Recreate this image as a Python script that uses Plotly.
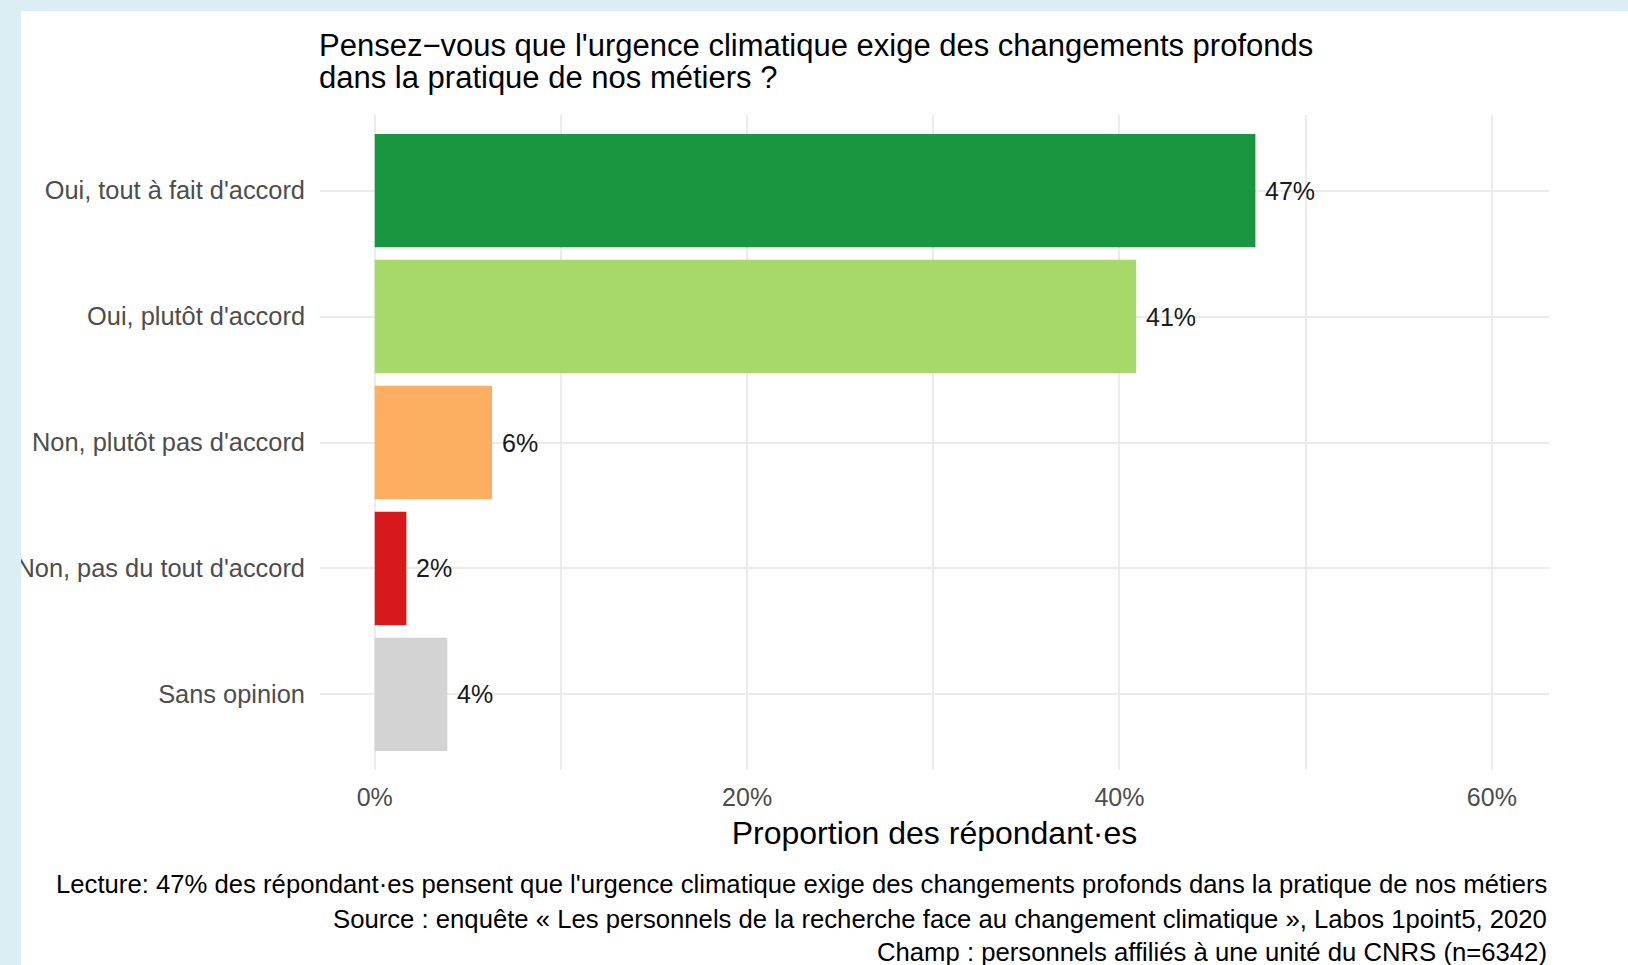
import plotly.graph_objects as go

# ---- data ----
categories = [
    "Oui, tout à fait d'accord",
    "Oui, plutôt d'accord",
    "Non, plutôt pas d'accord",
    "Non, pas du tout d'accord",
    "Sans opinion",
]
values = [47.3, 40.9, 6.3, 1.7, 3.9]
bar_labels = ["47%", "41%", "6%", "2%", "4%"]
bar_colors = ["#1a9641", "#a6d96a", "#fdae61", "#d7191c", "#d3d3d3"]
x_tickvals = [0, 20, 40, 60]
x_ticktext = ["0%", "20%", "40%", "60%"]

title_lines = [
    "Pensez\u2212vous que l'urgence climatique exige des changements profonds",
    "dans la pratique de nos métiers ?",
]
x_title = "Proportion des répondant·es"
caption_lines = [
    "Lecture: 47% des répondant·es pensent que l'urgence climatique exige des changements profonds dans la pratique de nos métiers",
    "Source : enquête « Les personnels de la recherche face au changement climatique », Labos 1point5, 2020",
    "Champ : personnels affiliés à une unité du CNRS (n=6342)",
]

# ---- layout geometry (pixels) ----
W, H = 1628, 965
L, R, T, B = 320, 1549, 115, 770
FONT = "Liberation Sans, Arial, sans-serif"


def xp(p):
    return (p - L) / (R - L)


def yp(q):
    return (B - q) / (B - T)


fig = go.Figure()
fig.add_trace(
    go.Bar(
        x=values,
        y=categories,
        orientation="h",
        marker=dict(color=bar_colors, line=dict(width=0)),
        hoverinfo="skip",
        showlegend=False,
    )
)

annotations = []
for v, c, lab in zip(values, categories, bar_labels):
    annotations.append(
        dict(
            x=v, y=c, xref="x", yref="y", text=lab, showarrow=False,
            xanchor="left", yanchor="middle", xshift=8,
            font=dict(family=FONT, size=25, color="#1a1a1a"),
        )
    )

# title lines
for txt, q in zip(title_lines, [45.5, 77.5]):
    annotations.append(
        dict(
            x=xp(L - 3), y=yp(q), xref="paper", yref="paper", text=txt,
            showarrow=False, xanchor="left", yanchor="middle",
            font=dict(family=FONT, size=31, color="#000000"),
        )
    )

# caption lines
for txt, q in zip(caption_lines, [884, 918.5, 952]):
    annotations.append(
        dict(
            x=1, y=yp(q), xref="paper", yref="paper", text=txt,
            showarrow=False, xanchor="right", yanchor="middle",
            font=dict(family=FONT, size=25.7, color="#000000"),
        )
    )

shapes = [
    # light-blue frame, left and top strips
    dict(type="rect", xref="paper", yref="paper", layer="above",
         x0=xp(-5), x1=xp(21), y0=yp(H + 5), y1=yp(-5),
         fillcolor="#dbeef4", line=dict(width=0)),
    dict(type="rect", xref="paper", yref="paper", layer="above",
         x0=xp(-5), x1=xp(W + 5), y0=yp(11), y1=yp(-5),
         fillcolor="#dbeef4", line=dict(width=0)),
]

fig.update_layout(
    width=W, height=H, autosize=False,
    margin=dict(l=L, r=W - R, t=T, b=H - B, pad=0),
    paper_bgcolor="#ffffff", plot_bgcolor="#ffffff",
    font=dict(family=FONT, size=25, color="#4d4d4d"),
    bargap=0.1,
    annotations=annotations,
    shapes=shapes,
    xaxis=dict(
        range=[-2.94, 63.07],
        tickvals=x_tickvals, ticktext=x_ticktext,
        showgrid=True, gridcolor="#ebebeb", gridwidth=2,
        minor=dict(tickvals=[10, 30, 50], showgrid=True, gridcolor="#ebebeb", gridwidth=1.5),
        zeroline=False, showline=False, ticks="",
        tickfont=dict(family=FONT, size=25, color="#4d4d4d"),
        ticklabelstandoff=10,
        title=dict(text=x_title, font=dict(family=FONT, size=32, color="#000000"), standoff=11),
        fixedrange=True,
    ),
    yaxis=dict(
        type="category",
        categoryorder="array", categoryarray=categories,
        range=[4.6, -0.6],
        showgrid=True, gridcolor="#ebebeb", gridwidth=2,
        zeroline=False, showline=False, ticks="",
        tickfont=dict(family=FONT, size=25.4, color="#4d4d4d"),
        ticklabelstandoff=14,
        fixedrange=True,
    ),
)

fig.write_html(
    "out.html",
    config={"displayModeBar": False},
    post_script="document.body.style.margin='0px';document.body.style.padding='0px';document.body.style.overflow='hidden';",
)
